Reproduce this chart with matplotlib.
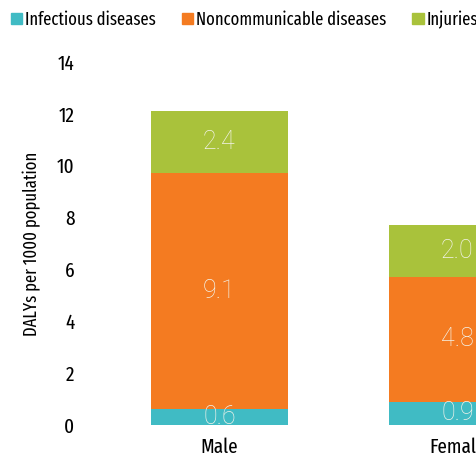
import matplotlib
matplotlib.use("Agg")
import matplotlib.pyplot as plt
from matplotlib.patches import Patch

# data
groups = ["Male", "Female"]
infectious = [0.6, 0.9]
noncommunicable = [9.1, 4.8]
injuries = [2.4, 2.0]
series_names = ["Infectious diseases", "Noncommunicable diseases", "Injuries"]
colors = ["#40bbc4", "#f47b21", "#a9c23b"]

narrow = ["Fira Sans Extra Condensed", "DejaVu Sans"]
thin = ["Roboto", "DejaVu Sans"]

fig = plt.figure(figsize=(4.76, 4.59), dpi=100)
ax = fig.add_axes([80 / 476, 34 / 459, 396 / 476, 363 / 459])

x = list(range(len(groups)))
width = 0.576
bottom = [0.0] * len(groups)
for vals, col in zip([infectious, noncommunicable, injuries], colors):
    ax.bar(x, vals, width, bottom=bottom, color=col)
    for xi, v, b in zip(x, vals, bottom):
        ax.text(xi, b + v / 2, f"{v:.1f}", ha="center", va="center",
                color="#f3f3ea", fontsize=18, family=thin, fontweight=100)
    bottom = [b + v for b, v in zip(bottom, vals)]

ax.set_xlim(-0.586, 1.078)
ax.set_ylim(0, 14)
ax.set_yticks(range(0, 15, 2))
ax.set_xticks(x)
ax.set_xticklabels(groups)
for lab in ax.get_xticklabels() + ax.get_yticklabels():
    lab.set_family(narrow)
    lab.set_fontsize(15)
ax.tick_params(length=0, pad=4)
ax.tick_params(axis="x", pad=9)
for s in ax.spines.values():
    s.set_visible(False)
ax.set_ylabel("DALYs per 1000 population", family=narrow, fontsize=13, labelpad=11)

handles = [Patch(color=c) for c in colors]
fig.legend(handles, series_names, loc="upper left", bbox_to_anchor=(-0.003, 1.005),
           ncol=3, frameon=False, prop={"family": narrow, "size": 13},
           handlelength=0.62, handleheight=0.62, handletextpad=0.15, columnspacing=1.45,
           borderaxespad=0.3)

fig.savefig("out.png", dpi=100)
